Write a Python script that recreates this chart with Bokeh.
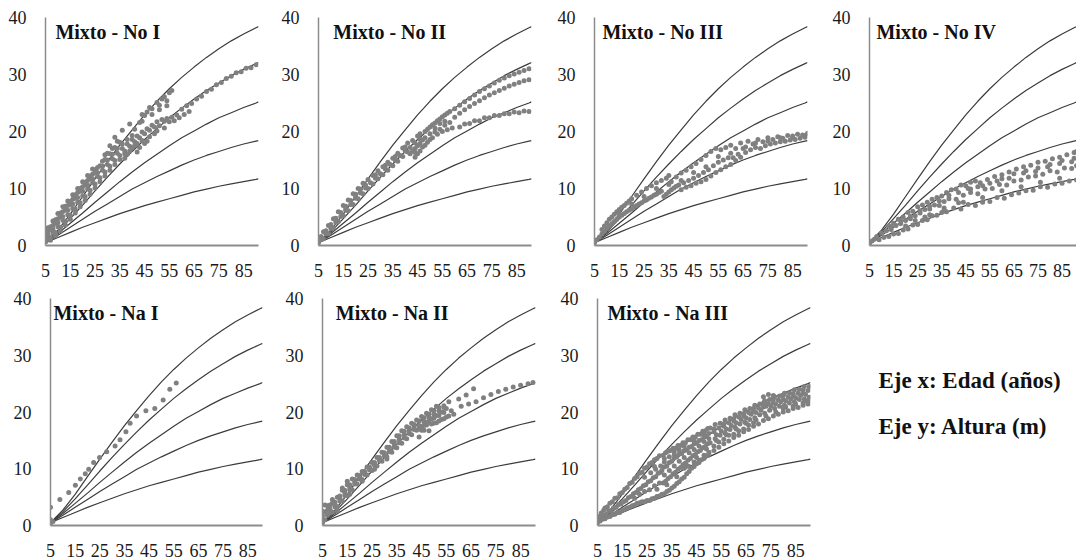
from bokeh.plotting import figure
from bokeh.layouts import row, column
from bokeh.models import Range1d, FixedTicker, Label
from bokeh.embed import file_html
from bokeh.resources import INLINE

# ---------------- data ----------------
ages = [5, 10, 15, 20, 25, 30, 35, 40, 45, 50, 55, 60, 65, 70, 75, 80, 85, 90, 91]
site_I = [0.5, 2.7, 5.5, 8.6, 11.7, 14.7, 17.6, 20.3, 22.9, 25.3, 27.5, 29.5, 31.3, 33.0, 34.5, 35.9, 37.1, 38.2, 38.4]
site_II = [0.5, 2.4, 4.7, 7.1, 9.6, 12.0, 14.3, 16.5, 18.6, 20.5, 22.4, 24.1, 25.7, 27.2, 28.5, 29.8, 30.9, 31.9, 32.1]
site_III = [0.5, 2.1, 3.9, 5.7, 7.6, 9.4, 11.2, 12.9, 14.5, 16.0, 17.5, 18.9, 20.1, 21.3, 22.4, 23.3, 24.2, 25.0, 25.2]
site_IV = [0.5, 1.8, 3.2, 4.6, 6.0, 7.3, 8.6, 9.9, 11.0, 12.1, 13.1, 14.1, 15.0, 15.8, 16.5, 17.2, 17.8, 18.3, 18.4]
site_V = [0.5, 1.4, 2.3, 3.2, 4.0, 4.8, 5.6, 6.3, 7.0, 7.6, 8.2, 8.8, 9.4, 9.9, 10.4, 10.8, 11.2, 11.6, 11.7]

x_ticks = [5, 15, 25, 35, 45, 55, 65, 75, 85]
y_ticks = [0, 10, 20, 30, 40]

titles = ["Mixto - No I", "Mixto - No II", "Mixto - No III", "Mixto - No IV",
          "Mixto - Na I", "Mixto - Na II", "Mixto - Na III"]

no1_pts = [(5,0.6),(5,1.6),(5,2.5),(6,1.2),(6,1.9),(6,3.1),(7,1.4),(7,2.8),(7,3.3),(8,2.2),(8,2.9),(8,4.3),
    (9,2.3),(9,3.9),(9,4.5),(10,3.3),(10,4.0),(10,5.6),(11,3.2),(11,5.0),(11,5.7),(12,4.4),(12,5.1),(12,6.8),
    (13,4.3),(13,6.2),(13,6.9),(14,5.4),(14,6.2),(14,7.8),(15,5.3),(15,7.2),(15,7.7),(16,6.5),(16,7.3),(16,8.9),
    (17,6.4),(17,8.3),(17,8.9),(18,7.6),(18,8.4),(18,10.0),(19,7.5),(19,9.5),(19,10.0),(20,8.7),(20,9.5),(20,11.2),
    (21,8.6),(21,10.6),(21,11.1),(22,9.9),(22,10.6),(22,12.3),(23,9.7),(23,11.7),(23,12.2),(24,11.0),(24,11.7),
    (24,13.4),(25,10.8),(25,12.8),(25,13.3),(26,12.1),(26,12.8),(27,11.9),(27,14.0),(28,13.2),(28,13.9),(29,12.9),
    (29,15.1),(29,15.9),(30,14.2),(30,15.0),(31,13.9),(31,16.1),(31,17.5),(32,15.2),(32,16.0),(33,14.9),(33,17.2),
    (33,19.0),(34,16.2),(34,17.0),(35,15.8),(35,18.1),(36,17.0),(36,17.8),(36,20.2),(37,16.6),(37,15.3),(38,17.8),
    (38,18.6),(39,17.4),(39,16.6),(39,21.3),(40,18.6),(40,19.3),(41,18.2),(41,17.5),(41,20.4),(42,19.2),(42,16.4),
    (43,18.9),(43,21.6),(43,17.2),(44,19.9),(44,21.8),(45,19.6),(45,17.9),(45,22.8),(46,20.5),(46,23.4),(46,18.3),
    (47,20.2),(47,24.2),(48,21.1),(48,24.0),(49,20.8),(49,19.6),(50,21.7),(50,25.1),(51,21.0),(51,24.6),(52,22.1),
    (52,25.7),(53,21.8),(53,26.1),(54,22.3),(54,25.4),(55,21.7),(55,26.8),(56,22.5),(56,27.2),(57,21.9),(58,22.9),
    (59,22.4),(60,23.9),(61,23.0),(62,24.5),(63,23.5),(64,24.9),(66,25.7),(68,26.2),(70,27.0),(72,27.4),(74,28.2),
    (76,28.6),(78,29.3),(80,29.7),(82,30.3),(84,30.5),(86,31.1),(88,31.2),(90,31.7),
    (6,2.4),(8,3.5),(10,4.7),(12,5.9),(14,7.0),(16,8.1),(18,9.3),(20,10.3),(22,11.4),(24,12.5),(26,13.7),
    (28,14.8),(30,16.2),(32,17.0),(34,18.3),(7,0.9),(9,1.7),(11,2.6),(13,3.6),(15,4.6),(17,5.7),(19,6.8),
    (21,7.9),(23,9.0),(25,10.1),(27,11.2),(29,12.2),(31,13.2),(33,14.2),(35,15.1),(37,16.1),(38,16.0),
    (40,17.1),(42,17.9),(44,18.4),(47,19.1),(50,20.1),(53,20.6),(44,23.0),(48,23.0),(51,23.8),(54,24.5)]

no2_pts = [(5,0.5),(5,1.3),(6,1.0),(6,1.6),(7,1.2),(7,2.4),(8,2.0),(8,2.6),(9,2.1),(9,3.5),(10,3.0),(10,3.7),
    (11,3.1),(11,4.7),(12,4.1),(12,4.8),(13,4.2),(13,5.9),(14,5.1),(14,5.8),(15,5.2),(15,7.0),(16,6.2),(16,6.9),
    (17,6.1),(17,8.0),(18,7.2),(18,7.9),(19,7.2),(19,9.1),(20,8.3),(20,9.0),(21,8.2),(21,10.0),(22,9.2),(22,9.9),
    (23,9.1),(23,10.9),(24,10.1),(25,10.0),(25,11.6),(26,11.0),(27,10.8),(27,12.3),(28,11.8),(29,11.7),(29,13.1),
    (30,12.6),(31,12.4),(31,13.8),(32,13.4),(33,13.2),(33,14.6),(34,14.2),(35,14.0),(35,15.3),(36,15.0),(37,14.8),
    (37,16.2),(38,15.8),(39,15.6),(39,17.1),(40,16.6),(41,16.4),(41,18.0),(42,16.1),(42,17.2),(43,16.6),(43,18.4),
    (44,15.5),(44,17.0),(44,18.0),(45,16.1),(45,17.5),(45,19.2),(46,16.6),(46,17.9),(46,19.6),(47,17.3),(47,18.5),
    (48,17.6),(48,20.0),(49,18.1),(49,20.4),(50,18.6),(50,20.8),(51,18.9),(51,21.2),(52,19.9),(52,21.5),(53,19.5),
    (53,21.9),(54,20.4),(54,22.2),(55,20.0),(55,22.6),(56,21.1),(56,22.9),(57,20.3),(57,23.2),(58,21.6),(58,23.5),
    (59,20.6),(60,22.5),(60,24.0),(62,20.8),(62,23.2),(62,24.6),(64,21.3),(64,23.8),(64,25.2),(66,21.4),(66,24.4),
    (66,25.8),(68,21.9),(68,24.9),(68,26.4),(70,21.9),(70,25.4),(70,27.0),(72,22.4),(72,25.9),(72,27.5),(74,22.4),
    (74,26.4),(74,28.0),(76,22.8),(76,26.8),(76,28.5),(78,22.8),(78,27.2),(78,29.0),(80,23.1),(80,27.6),(80,29.4),
    (82,23.1),(82,28.0),(82,29.8),(84,23.4),(84,28.3),(84,30.1),(86,23.3),(86,28.6),(86,30.4),(88,23.6),(88,28.9),
    (88,30.7),(90,23.5),(90,29.1),(90,31.0),
    (12,4.5),(16,6.5),(20,8.6),(24,10.6),(28,12.4),(32,14.1),(36,15.6),(40,17.3),(44,16.3),(46,18.7),(48,18.9),
    (50,19.6),(52,20.6),(54,21.4),(56,21.8)]

no3_pts = [(5,0.5),(6,1.0),(7,1.5),(8,2.0),(8,2.8),(9,2.5),(9,3.4),(10,3.0),(10,4.0),(11,3.4),(11,4.6),(12,3.8),
    (12,5.0),(13,4.2),(13,5.5),(14,4.6),(14,5.9),(15,5.0),(15,6.3),(16,5.3),(16,6.7),(17,5.6),(17,7.0),(18,5.9),
    (18,7.4),(19,6.2),(19,7.8),(20,6.4),(20,8.2),(21,6.7),(22,7.0),(22,8.8),(23,7.3),(24,7.5),(24,9.4),(25,7.8),
    (26,8.0),(26,10.0),(27,8.3),(28,8.5),(28,10.5),(29,8.8),(30,9.0),(30,11.0),(31,9.3),(32,9.5),(32,11.4),(33,8.6),
    (34,9.0),(34,11.8),(35,9.4),(35,12.3),(36,9.8),(36,11.2),(37,10.1),(38,10.4),(38,12.0),(39,10.6),(40,9.8),
    (40,12.7),(41,11.0),(42,10.2),(42,13.2),(43,11.4),(44,10.5),(44,13.8),(45,11.8),(46,10.9),(46,14.4),(47,12.3),
    (48,11.2),(48,15.1),(49,12.8),(50,11.6),(50,15.8),(51,13.3),(52,12.2),(52,16.5),(53,14.0),(54,12.8),(54,17.0),
    (55,14.6),(56,13.3),(56,16.8),(57,15.0),(58,13.8),(58,17.2),(59,15.4),(60,14.2),(60,17.6),(61,15.4),(62,14.9),
    (62,17.0),(63,16.0),(64,15.5),(64,18.0),(66,16.3),(66,17.3),(67,18.3),(68,16.8),(69,17.8),(70,17.2),(71,18.6),
    (72,17.0),(73,18.2),(74,17.5),(75,18.9),(76,17.8),(77,18.6),(78,18.0),(79,19.1),(80,18.2),(81,18.8),(82,18.3),
    (83,19.3),(84,18.5),(85,19.2),(86,18.6),(87,19.5),(88,18.8),(89,19.4),(90,19.0),(91,19.7),
    (15,5.6),(20,7.3),(25,8.6),(30,10.0),(35,10.7),(40,11.4),(45,12.8),(50,13.8),(55,15.6),(60,16.2),(65,17.0),
    (70,18.0),(75,18.3),(80,18.9),(85,18.9),(90,19.3)]

no4_pts = [(5,0.4),(6,0.8),(7,1.1),(9,1.0),(11,1.4),(13,1.6),(15,2.0),(17,2.1),(19,2.7),(21,2.9),(23,3.6),(25,3.7),
    (27,4.4),(29,4.5),(31,5.2),(33,5.3),(35,5.8),(37,5.9),(40,6.6),(43,6.4),(46,7.2),(49,7.0),(52,7.6),(55,7.7),
    (58,8.4),(61,8.3),(64,8.9),(67,9.2),(70,9.6),(73,9.7),(76,10.3),(79,10.2),(82,10.8),(85,10.9),(88,11.3),(91,11.5),
    (8,1.6),(10,2.2),(12,2.6),(14,3.3),(16,3.5),(18,4.3),(20,4.4),(22,5.1),(24,5.2),(26,5.7),(28,6.3),(30,6.4),
    (32,7.1),(34,7.0),(36,7.7),(38,8.2),(41,8.1),(44,8.8),(47,9.3),(50,9.1),(53,9.9),(56,10.0),(59,10.7),(62,10.6),
    (65,11.3),(68,11.5),(71,12.0),(74,12.2),(77,12.5),(80,13.1),(83,12.9),(86,13.6),(89,13.5),(91,14.0),
    (13,3.4),(15,3.9),(17,4.6),(19,5.0),(21,5.8),(23,6.0),(25,6.8),(27,7.1),(29,7.6),(31,8.1),(33,8.4),(35,8.7),
    (37,9.3),(39,9.8),(41,9.9),(43,10.6),(45,10.5),(47,11.1),(49,11.3),(51,11.0),(54,11.6),(57,12.1),(60,12.4),
    (63,12.9),(66,13.4),(69,13.8),(72,14.1),(75,14.6),(78,14.8),(81,15.2),(84,15.5),(87,15.9),(90,16.3),(91,16.5),
    (47,9.9),(52,10.5),(58,11.3),(63,11.8),(69,12.7),(74,13.0),(79,13.8),(84,14.4),(89,14.7),(36,6.6),(42,7.5),
    (24,4.4),(30,5.4),
    (14,2.8),(18,3.8),(22,4.7),(26,6.1),(30,6.9),(34,7.8),(38,8.8),(42,9.3),(46,10.0),(50,10.3),(55,10.9),
    (60,11.7),(65,12.6),(70,13.1),(75,13.6),(80,14.2),(85,14.9),(90,15.3),(20,3.4),(28,5.0),(36,6.2),(44,7.6),
    (52,8.4),(60,9.6),(68,10.3),(76,11.1),(84,11.8)]

na1_pts = [(5,0.4),(5,1.0),(5,3.2),(6,0.7),(8.8,4.6),(12.4,5.8),(15.1,7.1),(17.1,8.2),(19.1,9.1),(20.5,9.9),
    (22.5,11.1),(24.9,12.0),(27.8,13.0),(31.2,14.0),(33.2,15.1),(35.6,16.5),(37.3,18.0),(39.9,19.3),(43.7,20.2),
    (47.3,20.6),(50.7,22.1),(53.4,24.0),(56,25.1)]

na2_pts = [(5,0.5),(5,1.7),(5,2.5),(6,1.0),(6,2.4),(6,3.6),(7,1.8),(7,2.7),(7,3.5),(8,2.2),(8,3.6),(9,2.4),(9,3.9),
    (9,4.6),(10,3.3),(10,4.1),(11,3.3),(11,5.0),(12,4.3),(12,5.2),(13,4.3),(13,6.2),(13,6.6),(14,5.3),(14,6.2),
    (15,5.3),(15,7.2),(15,7.8),(16,6.3),(16,7.2),(17,6.3),(17,8.2),(18,7.3),(18,8.1),(19,7.3),(19,8.9),(20,8.2),
    (20,8.8),(21,8.1),(21,9.5),(22,9.0),(22,9.5),(23,8.9),(23,10.3),(24,9.8),(24,10.3),(25,9.7),(25,11.1),(26,10.6),
    (26,11.1),(27,10.5),(27,12.0),(28,11.4),(28,12.0),(29,11.3),(29,12.9),(30,12.2),(30,12.8),(31,12.1),(31,13.8),
    (32,13.0),(32,13.8),(33,12.9),(33,14.8),(34,13.8),(34,14.8),(35,13.7),(35,15.8),(36,14.6),(36,15.8),(37,14.5),
    (37,16.7),(38,15.4),(38,16.6),(39,15.3),(39,17.4),(40,16.2),(40,17.2),(41,16.0),(41,18.0),(42,16.9),(42,17.8),
    (43,16.8),(43,18.6),(44,15.6),(44,17.6),(44,18.4),(45,16.8),(45,17.5),(45,19.2),(46,16.8),(46,18.3),(46,19.0),
    (47,17.7),(47,18.2),(47,19.8),(48,16.7),(48,19.0),(48,19.6),(49,17.9),(49,18.8),(49,20.4),(50,18.0),(50,19.6),
    (50,20.2),(51,18.1),(51,19.4),(51,21.0),(52,18.4),(52,20.2),(52,20.8),(53,18.7),(53,20.0),(54,18.8),(54,20.8),
    (54,21.1),(55,19.1),(55,20.6),(56,19.3),(56,21.8),(57,20.2),(58,19.6),(60,22.3),(61,21.0),(63,23.0),(64,21.4),
    (66,24.1),(67,21.8),(70,22.5),(73,23.1),(76,23.6),(79,24.0),(82,24.4),(85,24.7),(88,25.0),(90,25.2),
    (8,2.9),(10,3.7),(12,4.8),(14,5.8),(16,6.8),(18,7.7),(20,8.5),(22,9.3),(24,10.0),(26,10.8),(28,11.7),
    (30,12.5),(32,13.4),(34,14.3),(36,15.2),(38,16.0),(40,16.7),(42,17.4),(44,17.0),(46,17.6),(48,18.3),
    (50,18.9),(52,19.4),(54,19.9),(11,2.6),(16,5.5),(21,7.8),(26,9.9),(31,11.7)]

na3_pts = [(5,0.5),(5,1.1),(5.5,1.6),(6,0.8),(6,1.4),(6.5,2.2),(7,1.1),(7,1.9),(7.5,2.7),(8,1.2),(8.5,2.0),(8,3.1),
    (9,1.5),(9.5,2.6),(9,3.3),(10,1.6),(10.5,2.5),(10,3.9),(11,1.9),(11.5,3.1),(11,4.2),(12,2.0),(12.5,3.2),(12,4.8),
    (13,2.3),(13.5,3.7),(13,4.9),(14,2.3),(14.5,3.8),(14,5.6),(15,2.7),(15.5,4.2),(15,5.8),(16,2.8),(16.5,4.4),
    (16,6.4),(17,3.1),(17.5,4.9),(17,6.7),(18,3.2),(18.5,5.1),(18,7.4),(19,3.5),(19.5,5.6),(19,7.6),(20,3.6),
    (20.5,5.8),(20,8.3),(21,3.9),(21.5,6.3),(21,8.6),(22,4.0),(22.5,6.5),(22,9.2),(23,4.2),(23.5,7.0),(23,9.4),
    (24,4.2),(24.5,7.2),(24,10.1),(25,4.4),(25.5,7.7),(25,10.3),(26,4.4),(26.5,7.9),(26,10.9),(26.5,9.3),(27,4.7),
    (27.5,8.4),(27,11.1),(28,4.8),(28.5,8.6),(28,11.6),(28.5,9.9),(29,5.1),(29.5,9.2),(29,11.8),(30,5.2),(30.5,9.4),
    (30,12.3),(30.5,10.5),(31,5.5),(31.5,7.5),(31,9.7),(31.5,12.4),(32,5.6),(32.5,7.8),(32,10.3),(32.5,12.8),
    (32,11.2),(33,6.0),(33.5,8.3),(33,10.5),(33.5,13.1),(34,6.2),(34.5,8.6),(34,11.1),(34.5,13.2),(34,12.1),
    (35,6.6),(35.5,9.1),(35,11.3),(35.5,13.6),(36,6.9),(36.5,9.4),(36,11.9),(36.5,13.6),(36,12.5),(37,7.4),
    (37.5,9.9),(37,12.1),(37.5,14.1),(38,7.7),(38.5,10.2),(38,12.6),(38.5,14.1),(38,13.3),(39,8.2),(39.5,10.7),
    (39,12.7),(39.5,14.6),(40,8.5),(40.5,11.0),(40,13.2),(40.5,14.6),(40,10.1),(41,9.1),(41.5,11.5),(41,13.3),
    (41.5,15.1),(42,9.5),(42.5,11.8),(42,13.8),(42.5,15.1),(42,10.4),(43,10.1),(43.5,12.3),(43,13.9),(43.5,15.6),
    (44,10.4),(44.5,12.5),(44,14.4),(44.5,15.6),(44,11.2),(45,10.9),(45.5,13.0),(45,14.5),(45.5,16.1),(46,11.1),
    (46.5,13.2),(46,15.0),(46.5,16.1),(46,11.5),(47,11.6),(47.5,13.7),(47,15.1),(47.5,16.6),(48,11.8),(48.5,13.9),
    (48,15.6),(48.5,16.7),(48,12.4),(49,12.3),(49.5,14.4),(49,15.7),(49.5,17.1),(50,12.5),(50.5,14.6),(50,16.2),
    (50.5,17.2),(50,12.9),(52,13.2),(52.5,15.3),(52,16.5),(52.5,17.8),(52,14.0),(54,13.8),(54.5,15.9),(54,17.2),
    (54.5,18.0),(54,14.7),(56,14.4),(56.5,16.3),(56,17.5),(56.5,18.6),(56,15.2),(58,14.9),(58.5,16.9),(58,18.1),
    (58.5,18.9),(58,15.9),(60,15.5),(60.5,17.3),(60,18.4),(60.5,19.5),(60,16.1),(62,15.9),(62.5,17.9),(62,19.1),
    (62.5,19.8),(62,16.7),(64,16.5),(64.5,18.2),(64,19.3),(64.5,20.4),(64,17.0),(66,16.9),(66.5,18.7),(66,19.9),
    (66.5,20.6),(66,17.7),(68,17.5),(68.5,19.0),(68,20.1),(68.5,21.2),(68,18.1),(70,17.9),(70.5,19.5),(70,20.7),
    (70.5,21.4),(72,18.5),(72.5,19.8),(72,20.9),(72.5,22.0),(72,22.7),(74,18.8),(74.5,20.3),(74,21.5),(74.5,22.2),
    (74,23.1),(76,19.3),(76.5,20.6),(76,21.6),(76.5,22.7),(76,22.9),(78,19.6),(78.5,21.0),(78,22.1),(78.5,22.8),
    (80,20.0),(80.5,21.2),(80,22.2),(80.5,23.3),(80,20.6),(82,20.2),(82.5,21.6),(82,22.7),(82.5,23.4),(84,20.6),
    (84.5,21.8),(84,22.8),(84.5,23.9),(84,21.0),(86,20.8),(86.5,22.2),(86,23.3),(86.5,24.0),(88,21.2),(88.5,22.3),
    (88,23.4),(88.5,24.5),(88,21.6),(90,21.4),(90.5,22.6),(90,23.8),(90.5,24.5),(90,21.9),
    (20,4.8),(22,5.5),(24,6.0),(26,6.3),(28,7.0),(30,7.5),(32,8.9),(34,9.7),(36,10.5),(38,11.3),(40,12.0),
    (42,12.8),(44,13.4),(46,14.0),(48,14.8),(50,15.3),(53,16.0),(55,16.6),(57,17.0),(59,17.6),(61,18.1),(63,18.7),
    (65,19.0),(67,19.6),(69,19.9),(71,20.3),(73,21.0),(75,21.0),(77,21.4),(79,21.8),(81,22.0),(83,22.3),(85,22.5),
    (87,22.9),(89,23.1),(29,6.4),(33,7.2),(37,8.6),(41,10.6),(45,12.0),(49,13.5),(53,15.0),(57,16.0),(61,17.0),
    (65,18.0),(69,18.6),(73,19.3),(77,20.0),(81,20.9),(85,21.4),(89,22.0),(24,8.5),(28,10.4),(32,11.8),(36,13.0),
    (40,14.0),(44,14.9),(48,16.2),(52,17.0),(56,17.9),(60,18.8),(64,19.7),(68,20.6),(72,21.6),(76,22.2),(80,22.9),
    (84,23.2),(88,23.9)]

panel_points = [no1_pts, no2_pts, no3_pts, no4_pts, na1_pts, na2_pts, na3_pts]

# ---------------- styling / layout ----------------
SERIF = "Liberation Serif"
CURVE_COLOR = "#3c3c3c"
DOT_COLOR = "#808080"
AXIS_COLOR = "#8c8c8c"
title_x_pos = [9.0, 11.0, 8.2, 7.9, 6.2, 10.4, 9.0]
# (figure width, border left, border right)
top_geom = [(273, 45, 15), (274, 45, 16), (275, 47, 15), (254, 47, 0)]
bot_geom = [(272, 50, 10), (275, 50, 12), (275, 50, 12)]


def make_panel(title, pts, geom, height, border_bottom, tx):
    width, bl, br = geom
    p = figure(width=width, height=height, x_range=Range1d(5, 91), y_range=Range1d(0, 40),
               output_backend="svg", toolbar_location=None,
               min_border_left=bl, min_border_right=br,
               min_border_top=17, min_border_bottom=border_bottom)
    p.xgrid.visible = False
    p.ygrid.visible = False
    p.outline_line_color = None

    for c in [site_I, site_II, site_III, site_IV, site_V]:
        p.line(ages, c, line_color=CURVE_COLOR, line_width=1.2)

    xs = [a for a, _ in pts]
    ys = [h for _, h in pts]
    p.scatter(xs, ys, size=5, fill_color=DOT_COLOR, line_color=None)

    p.xaxis.ticker = FixedTicker(ticks=x_ticks)
    p.yaxis.ticker = FixedTicker(ticks=y_ticks)
    for ax in (p.xaxis, p.yaxis):
        ax.major_tick_line_color = None
        ax.minor_tick_line_color = None
        ax.axis_line_color = AXIS_COLOR
        ax.major_label_text_font = SERIF
        ax.major_label_text_font_size = "18px"
        ax.major_label_text_color = "#1a1a1a"
    p.xaxis.major_label_standoff = 12
    p.yaxis.major_label_standoff = 13
    p.xaxis.axis_line_width = 2
    p.yaxis.axis_line_width = 1.5

    p.add_layout(Label(x=tx, y=37.4, text=title, text_font=SERIF, text_font_style="bold",
                       text_font_size="20px", text_color="#111111", text_baseline="middle"))
    return p


top = [make_panel(titles[i], panel_points[i], top_geom[i], 281, 36, title_x_pos[i]) for i in range(4)]
bot = [make_panel(titles[4 + i], panel_points[4 + i], bot_geom[i], 278, 32, title_x_pos[4 + i]) for i in range(3)]

legend_fig = figure(width=254, height=278, x_range=Range1d(0, 254), y_range=Range1d(0, 278),
                    output_backend="svg", toolbar_location=None, min_border=0)
legend_fig.axis.visible = False
legend_fig.grid.visible = False
legend_fig.outline_line_color = None
legend_fig.add_layout(Label(x=56, y=177, text="Eje x: Edad (años)", text_font=SERIF,
                            text_font_style="bold", text_font_size="23px", text_color="#111111",
                            text_baseline="middle"))
legend_fig.add_layout(Label(x=56, y=121, text="Eje y: Altura (m)", text_font=SERIF,
                            text_font_style="bold", text_font_size="23px", text_color="#111111",
                            text_baseline="middle"))

layout = column(row(*top), row(*bot, legend_fig))

open("out.html", "w").write(file_html(layout, INLINE))
